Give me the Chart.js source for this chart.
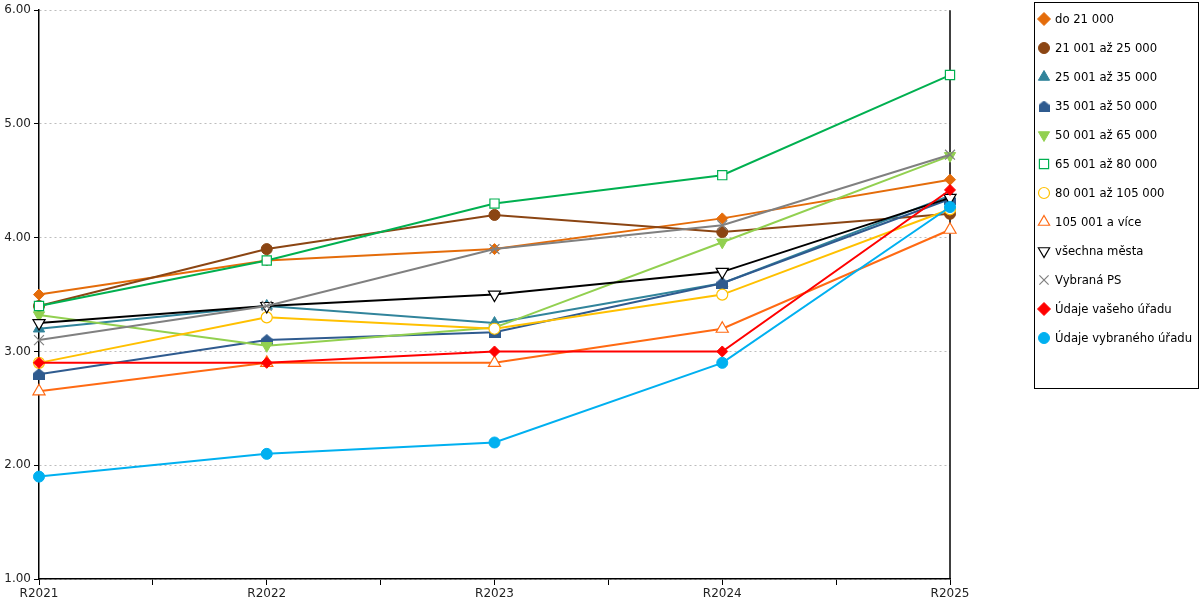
<!DOCTYPE html>
<html>
<head>
<meta charset="utf-8">
<script src="https://cdn.jsdelivr.net/npm/chart.js@4/dist/chart.umd.min.js"></script>
<style>
  html, body { margin: 0; padding: 0; background: #fff; }
  #wrap { width: 1200px; height: 600px; position: relative; }
</style>
</head>
<body>
<div id="wrap"><canvas id="myChart"></canvas></div>
<script>
// roky
var categories = ['R2021', 'R2022', 'R2023', 'R2024', 'R2025'];
var yTicks = [1, 2, 3, 4, 5, 6];

// hodnoty jednotlivých řad
var seriesNames = [
  'do 21 000', '21 001 až 25 000', '25 001 až 35 000', '35 001 až 50 000',
  '50 001 až 65 000', '65 001 až 80 000', '80 001 až 105 000', '105 001 a více',
  'všechna města', 'Vybraná PS', 'Údaje vašeho úřadu', 'Údaje vybraného úřadu'
];
var do21 = [3.50, 3.80, 3.90, 4.17, 4.51];
var do25 = [3.40, 3.90, 4.20, 4.05, 4.21];
var do35 = [3.20, 3.40, 3.25, 3.60, 4.37];
var do50 = [2.80, 3.10, 3.17, 3.60, 4.34];
var do65 = [3.32, 3.05, 3.21, 3.96, 4.72];
var do80 = [3.40, 3.80, 4.30, 4.55, 5.43];
var do105 = [2.90, 3.30, 3.20, 3.50, 4.25];
var nad105 = [2.65, 2.90, 2.90, 3.20, 4.07];
var vsechnaMesta = [3.25, 3.40, 3.50, 3.70, 4.35];
var vybranaPS = [3.10, 3.40, 3.90, 4.11, 4.73];
var vasUrad = [2.90, 2.90, 3.00, 3.00, 4.42];
var vybranyUrad = [1.90, 2.10, 2.20, 2.90, 4.27];

// domeček (pětiúhelník) pro 35 001 až 50 000
function housePoint(color, size) {
  var c = document.createElement('canvas');
  c.width = size; c.height = size;
  var g = c.getContext('2d');
  g.fillStyle = color;
  g.beginPath();
  g.moveTo(size / 2, 0); g.lineTo(size, size * 0.42); g.lineTo(size, size); g.lineTo(0, size); g.lineTo(0, size * 0.42);
  g.closePath();
  g.fill();
  return c;
}

var styles = [
  { color: '#E46C0A', point: 'rectRot', fill: true, r: 5.5 },
  { color: '#8B4513', point: 'circle', fill: true, r: 5.5 },
  { color: '#31849B', point: 'triangle', fill: true, r: 6.5 },
  { color: '#2F5B8F', point: housePoint('#2F5B8F', 12), legendPoint: housePoint('#2F5B8F', 11), fill: true, r: 6 },
  { color: '#92D050', point: 'triangle', rot: 180, fill: true, r: 6.5 },
  { color: '#00B050', point: 'rect', fill: false, r: 6.5 },
  { color: '#FFC000', point: 'circle', fill: false, r: 5.5 },
  { color: '#FF6A13', point: 'triangle', fill: false, r: 7 },
  { color: '#000000', point: 'triangle', rot: 180, fill: false, r: 7 },
  { color: '#808080', point: 'crossRot', fill: false, r: 7 },
  { color: '#FF0000', point: 'rectRot', fill: true, r: 5.5 },
  { color: '#00B0F0', point: 'circle', fill: true, r: 5.5 }
];

var values = [do21, do25, do35, do50, do65, do80, do105, nad105, vsechnaMesta, vybranaPS, vasUrad, vybranyUrad];

var datasets = values.map(function (vals, i) {
  var s = styles[i];
  return {
    label: seriesNames[i],
    data: vals.map(function (v, j) { return { x: j, y: v }; }),
    borderColor: s.color,
    backgroundColor: s.color,
    borderWidth: 2,
    pointStyle: s.point,
    legendPoint: s.legendPoint || s.point,
    pointRotation: s.rot || 0,
    pointRadius: s.r,
    pointHoverRadius: s.r,
    pointBackgroundColor: s.fill ? s.color : '#ffffff',
    pointBorderColor: s.color,
    pointBorderWidth: s.fill ? 1 : 1.2,
    tension: 0,
    fill: false,
    clip: false,
    order: values.length - i
  };
});

// legenda v rámečku vpravo
var boxLegend = {
  id: 'boxLegend',
  afterDraw: function (chart) {
    var ctx = chart.ctx;
    var x0 = 1034, y0 = 2, w = 164, h = 386, step = 29;
    ctx.save();
    ctx.strokeStyle = '#000';
    ctx.lineWidth = 1;
    ctx.strokeRect(x0 + 0.5, y0 + 0.5, w, h);
    ctx.font = '11.65px "DejaVu Sans"';
    ctx.textBaseline = 'middle';
    chart.data.datasets.forEach(function (ds, i) {
      var cy = 19 + i * step;
      ctx.fillStyle = ds.pointBackgroundColor;
      ctx.strokeStyle = ds.pointBorderColor;
      ctx.lineWidth = ds.pointBorderWidth;
      Chart.helpers.drawPoint(ctx, {
        pointStyle: ds.legendPoint,
        rotation: ds.pointRotation,
        radius: ds.pointStyle === 'circle' ? 5.5 : 6.5,
        borderWidth: ds.pointBorderWidth
      }, 1044, cy);
      ctx.fillStyle = '#000';
      ctx.fillText(ds.label, 1055, cy + 1);
    });
    ctx.restore();
  }
};

// pravá svislá čára
var rightFrame = {
  id: 'rightFrame',
  beforeDatasetsDraw: function (chart) {
    var a = chart.chartArea, ctx = chart.ctx;
    ctx.save();
    ctx.strokeStyle = '#000';
    ctx.lineWidth = 1.5;
    ctx.beginPath();
    ctx.moveTo(a.right, a.top);
    ctx.lineTo(a.right, a.bottom);
    ctx.stroke();
    ctx.restore();
  }
};

Chart.defaults.font.family = '"DejaVu Sans", sans-serif';
Chart.defaults.font.size = 12;
Chart.defaults.color = '#222';

var ctx = document.getElementById('myChart').getContext('2d');
var myChart = new Chart(ctx, {
  type: 'line',
  data: { datasets: datasets },
  options: {
    responsive: true,
    maintainAspectRatio: false,
    animation: false,
    layout: { padding: { top: 9, right: 250, left: 0, bottom: 0 } },
    plugins: { legend: { display: false }, tooltip: { enabled: false } },
    scales: {
      x: {
        type: 'linear',
        min: 0,
        max: categories.length - 1,
        afterFit: function (scale) { scale.height = 21; },
        afterBuildTicks: function (scale) {
          var t = [];
          for (var k = 0; k <= (categories.length - 1) * 2; k++) t.push({ value: k / 2 });
          scale.ticks = t;
        },
        ticks: {
          autoSkip: false,
          maxRotation: 0,
          padding: 2,
          color: '#222',
          callback: function (v) { return Number.isInteger(v) ? categories[v] : ''; }
        },
        grid: { drawOnChartArea: false, drawTicks: true, tickLength: 6, tickColor: '#000', tickWidth: 1 },
        border: { display: true, color: '#000', width: 1.5 }
      },
      y: {
        min: yTicks[0],
        max: yTicks[yTicks.length - 1],
        afterFit: function (scale) { scale.width = 39; },
        afterBuildTicks: function (scale) {
          scale.ticks = yTicks.map(function (v) { return { value: v }; });
        },
        ticks: {
          padding: 3,
          color: '#222',
          callback: function (v) { return v.toFixed(2); }
        },
        grid: { color: '#BDBDBD', lineWidth: 1, drawTicks: true, tickLength: 5, tickColor: '#000', tickWidth: 1, tickBorderDash: [] },
        border: { display: true, color: '#000', width: 1.5, dash: [2, 3] }
      }
    }
  },
  plugins: [rightFrame, boxLegend]
});
</script>
</body>
</html>
